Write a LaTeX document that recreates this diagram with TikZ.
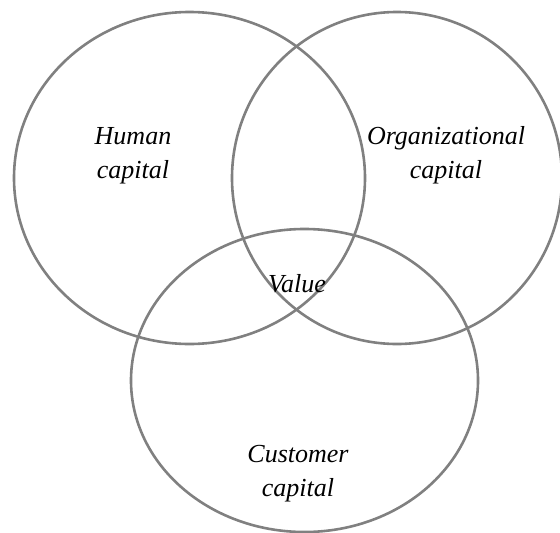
\documentclass[tikz,border=0pt]{standalone}
\usepackage{fontspec}
\setmainfont{Liberation Serif}
\usepackage{tikz}

\tikzset{
	ring/.style = {line width=2.6pt, draw=black!50},
	lbl/.style = {align=center, inner sep=0pt, font=\fontsize{26}{34}\selectfont\itshape}
}

\begin{document}
\begin{tikzpicture} [x=1pt, y=-1pt]
	\useasboundingbox (0,0) rectangle (560,533);
	\draw [ring] (189.5,178) ellipse [x radius=175.5pt, y radius=166pt];
	\draw [ring] (397,178) ellipse [x radius=165pt, y radius=166pt];
	\draw [ring] (304.5,380.5) ellipse [x radius=173.5pt, y radius=151.5pt];
	%\draw [ring] (300,300) circle (150pt);
	\node [lbl] (human) at (133,156) {Human\\capital};
	\node [lbl] (org) at (446,155) {Organizational\\capital};
	\node [lbl] (customer) at (298,474) {Customer\\capital};
	\node [lbl, anchor=base] (value) at (297,292) {Value};
\end{tikzpicture}
\end{document}
